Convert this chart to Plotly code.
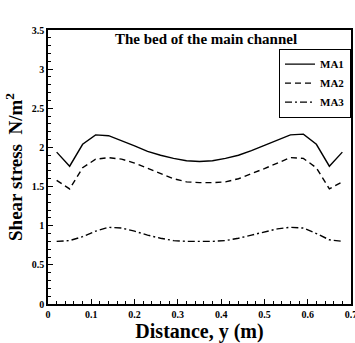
import plotly.graph_objects as go

distance = [0.02, 0.05, 0.08, 0.11, 0.14, 0.17, 0.20, 0.23, 0.26, 0.29, 0.32, 0.35,
            0.38, 0.41, 0.44, 0.47, 0.50, 0.53, 0.56, 0.59, 0.62, 0.65, 0.68]
ma1 = [1.94, 1.76, 2.04, 2.16, 2.15, 2.09, 2.02, 1.95, 1.90, 1.86, 1.83, 1.82,
       1.83, 1.86, 1.90, 1.96, 2.03, 2.10, 2.16, 2.17, 2.04, 1.76, 1.94]
ma2 = [1.58, 1.47, 1.74, 1.85, 1.87, 1.85, 1.80, 1.73, 1.66, 1.60, 1.56, 1.55,
       1.55, 1.56, 1.60, 1.66, 1.73, 1.80, 1.87, 1.86, 1.74, 1.47, 1.56]
ma3 = [0.80, 0.81, 0.86, 0.93, 0.98, 0.97, 0.93, 0.88, 0.84, 0.81, 0.80, 0.80,
       0.80, 0.81, 0.84, 0.88, 0.92, 0.96, 0.98, 0.97, 0.90, 0.82, 0.80]
series_names = ["MA1", "MA2", "MA3"]
x_ticks = [0, 0.1, 0.2, 0.3, 0.4, 0.5, 0.6, 0.7]
y_ticks = [0, 0.5, 1, 1.5, 2, 2.5, 3, 3.5]

FONT = "Liberation Serif, Times New Roman, serif"
dashes = ["solid", "6px,4px", "7px,3px,2px,3px"]

fig = go.Figure()
for name, ys, d in zip(series_names, [ma1, ma2, ma3], dashes):
    fig.add_trace(go.Scatter(x=distance, y=ys, mode="lines", name=name,
                             line=dict(color="black", width=1.4, dash=d)))

axis_common = dict(showgrid=False, zeroline=False, showline=True, linecolor="black",
                   linewidth=1.5, mirror=True, ticks="inside", tickcolor="black",
                   ticklen=5, tickwidth=1, ticklabeloverflow="allow",
                   tickfont=dict(family=FONT, size=10, color="black", weight="bold"))

fig.update_xaxes(range=[0, 0.7], tickvals=x_ticks, automargin="bottom",
                 ticktext=[("%g" % v) for v in x_ticks],
                 minor=dict(ticks="inside", dtick=0.02, ticklen=3, tickcolor="black", tickwidth=1),
                 title=dict(text="Distance, y (m)", standoff=5,
                            font=dict(family=FONT, size=20, color="black", weight="bold")),
                 **axis_common)
fig.update_yaxes(range=[0, 3.5], tickvals=y_ticks, automargin="left",
                 ticktext=[("%g" % v) for v in y_ticks],
                 minor=dict(ticks="inside", dtick=0.1, ticklen=3, tickcolor="black", tickwidth=1),
                 title=dict(text="Shear stress  N/m<sup>2</sup>", standoff=4,
                            font=dict(family=FONT, size=19, color="black", weight="bold")),
                 **axis_common)

fig.add_annotation(text="The bed of the main channel", xref="paper", yref="paper",
                   x=0.52, y=1.005, xanchor="center", yanchor="top", showarrow=False,
                   font=dict(family=FONT, size=15, color="black", weight="bold"))

fig.update_layout(
    width=355, height=343,
    margin=dict(l=48, r=4, t=30, b=35),
    paper_bgcolor="white", plot_bgcolor="white",
    showlegend=True,
    legend=dict(x=1, xanchor="right", y=0.932, yanchor="top",
                bordercolor="black", borderwidth=1, bgcolor="white",
                font=dict(family=FONT, size=11, color="black", weight="bold"),
                tracegroupgap=0, itemwidth=30),
)

fig.write_html("out.html")
